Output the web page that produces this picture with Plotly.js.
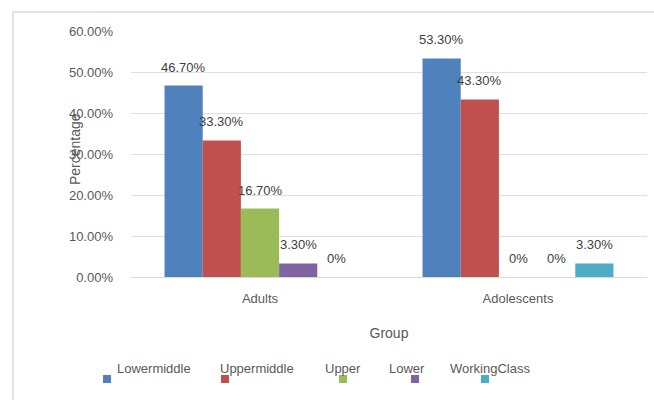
<!DOCTYPE html>
<html>
<head>
<meta charset="utf-8">
<script src="https://cdn.plot.ly/plotly-3.0.1.min.js"></script>
<style>
  html, body { margin: 0; padding: 0; background: #fff; }
  #wrap { position: relative; width: 654px; height: 400px; }
  #chart { width: 654px; height: 400px; }
  #frame { position: absolute; left: 12px; top: 11px; width: 642px; height: 389px;
           border-left: 2px solid #e3e3e3; border-top: 2px solid #e3e3e3; pointer-events: none; }
</style>
</head>
<body>
<div id="wrap">
  <div id="chart"></div>
  <div id="frame"></div>
</div>
<script>
// ---- data ----
const categories = ['Adults', 'Adolescents'];
const seriesNames = ['Lowermiddle', 'Uppermiddle', 'Upper', 'Lower', 'WorkingClass'];
const lowermiddle = [0.467, 0.533];
const uppermiddle = [0.333, 0.433];
const upper = [0.167, 0.0];
const lower = [0.033, 0.0];
const workingClass = [0.0, 0.033];
const yTickVals = [0, 0.1, 0.2, 0.3, 0.4, 0.5, 0.6];
const xTitle = 'Group';
const yTitle = 'Percentage';

// ---- styling / layout ----
const seriesValues = [lowermiddle, uppermiddle, upper, lower, workingClass];
const colors = ['#4f81bd', '#c0504d', '#9bbb59', '#8064a2', '#4bacc6'];
const fontFamily = '"Liberation Sans", Arial, sans-serif';
const W = 654, H = 400;
const margin = { l: 131, r: 7, t: 31, b: 123 };
const bargap = 0.26;
const plotW = W - margin.l - margin.r;
const plotH = H - margin.t - margin.b;
const barPx = (plotW / categories.length) * (1 - bargap) / seriesNames.length;
// legend entry placement (pixels): text left edge and swatch left edge
const legendTextX = [115, 218, 323, 387, 448];
const legendSwatchX = [103, 221, 339, 411, 481];
const legendTextY = 368, legendSwatchY = 375, swatch = 8;

const px = X => (X - margin.l) / plotW;
const py = Y => (H - margin.b - Y) / plotH;

function fmt(v) {
  return v === 0 ? '0%' : (v * 100).toFixed(2) + '%';
}

const traces = seriesNames.map((name, i) => ({
  type: 'bar',
  name: name,
  x: categories,
  y: seriesValues[i],
  marker: { color: colors[i] },
  hoverinfo: 'x+y+name'
}));

const annotations = [];
seriesValues.forEach((vals, i) => {
  vals.forEach((v, j) => {
    annotations.push({
      x: categories[j], y: v, xref: 'x', yref: 'y',
      text: fmt(v), showarrow: false,
      xanchor: 'center', yanchor: 'bottom',
      xshift: (i - (seriesNames.length - 1) / 2) * barPx,
      yshift: 9,
      font: { family: fontFamily, size: 13, color: '#404040' }
    });
  });
});
annotations.push({
  xref: 'paper', yref: 'paper', x: px(75), y: 0.52,
  text: yTitle, textangle: -90, showarrow: false,
  xanchor: 'center', yanchor: 'middle',
  font: { family: fontFamily, size: 14, color: '#595959' }
});

const shapes = [];
seriesNames.forEach((name, i) => {
  annotations.push({
    xref: 'paper', yref: 'paper', x: px(legendTextX[i]), y: py(legendTextY),
    text: name, showarrow: false, xanchor: 'left', yanchor: 'middle',
    font: { family: fontFamily, size: 13, color: '#595959' }
  });
  shapes.push({
    type: 'rect', xref: 'paper', yref: 'paper',
    x0: px(legendSwatchX[i]), x1: px(legendSwatchX[i] + swatch),
    y0: py(legendSwatchY), y1: py(legendSwatchY + swatch),
    fillcolor: colors[i], line: { width: 0 }
  });
});

const layout = {
  width: W, height: H,
  margin: margin,
  paper_bgcolor: '#ffffff', plot_bgcolor: '#ffffff',
  barmode: 'group', bargap: bargap, bargroupgap: 0,
  font: { family: fontFamily, size: 13, color: '#595959' },
  showlegend: false,
  xaxis: {
    type: 'category',
    showgrid: false, zeroline: false, showline: false,
    ticks: '', ticklabelstandoff: 12,
    tickfont: { size: 13, color: '#595959' },
    title: { text: xTitle, standoff: 23, font: { size: 14, color: '#595959' } }
  },
  yaxis: {
    range: [0, 0.6], tickvals: yTickVals, tickformat: '.2%',
    showgrid: true, gridcolor: '#e0e0e0', gridwidth: 1,
    zeroline: true, zerolinecolor: '#d9d9d9', zerolinewidth: 1,
    showline: false, ticks: '', ticklabelstandoff: 17,
    tickfont: { size: 13, color: '#595959' }
  },
  annotations: annotations,
  shapes: shapes
};

Plotly.newPlot('chart', traces, layout, { staticPlot: true, displayModeBar: false });
</script>
</body>
</html>
